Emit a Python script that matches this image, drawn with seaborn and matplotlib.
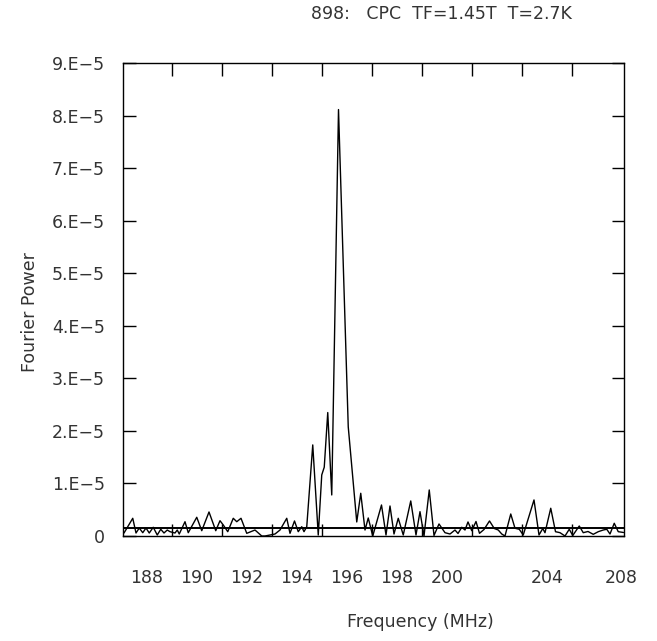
import numpy as np
import pandas as pd
import matplotlib
matplotlib.use("Agg")
import matplotlib.pyplot as plt
import seaborn as sns

# ==========================================
# DATA
# ==========================================
FREQ_MHZ = [
    187.08, 187.43, 187.56, 187.69, 187.83, 187.96, 188.09, 188.25, 188.41, 188.55,
    188.68, 188.81, 188.92, 189.12, 189.21, 189.29, 189.52, 189.65, 189.99, 190.19,
    190.48, 190.75, 190.92, 191.05, 191.23, 191.45, 191.59, 191.76, 191.99, 192.32,
    192.59, 192.72, 192.92, 193.12, 193.32, 193.59, 193.72, 193.90, 194.05, 194.19,
    194.28, 194.39, 194.63, 194.85, 194.99, 195.09, 195.23, 195.39, 195.66, 196.05,
    196.39, 196.55, 196.72, 196.85, 197.03, 197.38, 197.56, 197.72, 197.88, 198.05,
    198.25, 198.55, 198.76, 198.92, 199.08, 199.29, 199.48, 199.68, 199.92, 200.12,
    200.32, 200.44, 200.59, 200.72, 200.84, 200.99, 201.16, 201.30, 201.48, 201.70,
    201.89, 202.05, 202.19, 202.32, 202.55, 202.72, 202.89, 203.05, 203.48, 203.68,
    203.83, 203.92, 204.15, 204.34, 204.52, 204.72, 204.89, 205.03, 205.29, 205.45,
    205.64, 205.85, 206.05, 206.25, 206.39, 206.52, 206.69, 206.85, 207.06,
]
# Fourier power in units of 1e-5
POWER_E5 = [
    0.057, 0.337, 0.057, 0.152, 0.063, 0.152, 0.057, 0.166, 0.019, 0.128,
    0.057, 0.114, 0.082, 0.057, 0.114, 0.038, 0.272, 0.063, 0.356, 0.101,
    0.457, 0.101, 0.291, 0.210, 0.082, 0.337, 0.272, 0.337, 0.051, 0.114,
    0.000, 0.000, 0.019, 0.038, 0.114, 0.337, 0.051, 0.286, 0.082, 0.177,
    0.082, 0.177, 1.733, 0.019, 1.162, 1.309, 2.349, 0.781, 8.114, 2.076,
    0.267, 0.813, 0.114, 0.343, 0.000, 0.590, 0.019, 0.571, 0.038, 0.337,
    0.019, 0.667, 0.019, 0.463, 0.000, 0.876, 0.010, 0.229, 0.063, 0.038,
    0.114, 0.048, 0.166, 0.114, 0.267, 0.101, 0.276, 0.051, 0.124, 0.286,
    0.143, 0.114, 0.038, 0.000, 0.419, 0.147, 0.128, 0.019, 0.686, 0.019,
    0.143, 0.063, 0.528, 0.082, 0.063, 0.000, 0.128, 0.010, 0.190, 0.063,
    0.086, 0.032, 0.082, 0.114, 0.128, 0.038, 0.242, 0.082, 0.067,
]
BASELINE_E5 = 0.158

X_TICK_MARKS = [189, 191, 193, 195, 197, 199, 201, 203, 205]
X_LABEL_POS = [188, 190, 192, 194, 196, 198, 200, 204, 206.95]
X_LABELS = ["188", "190", "192", "194", "196", "198", "200", "204", "208"]
Y_TICKS_E5 = [0, 1, 2, 3, 4, 5, 6, 7, 8, 9]
Y_LABELS = ["0"] + [f"{v}.E\u22125" for v in range(1, 10)]

TITLE = "898:   CPC  TF=1.45T  T=2.7K"
TEXT_COLOR = "#333333"
FONT_SIZE = 12.5

# ==========================================
# PLOT
# ==========================================
sns.set_style("ticks")
plt.rcParams["font.family"] = ["DejaVu Sans"]

df = pd.DataFrame({"freq": FREQ_MHZ, "power": np.array(POWER_E5) * 1e-5})

fig = plt.figure(figsize=(6.57, 6.41), dpi=100)
ax = fig.add_axes([123 / 657, 1 - 536 / 641, 501 / 657, 473 / 641])

sns.lineplot(data=df, x="freq", y="power", sort=False, color="black",
             linewidth=1.0, ax=ax)
ax.axhline(BASELINE_E5 * 1e-5, color="black", linewidth=1.4)

ax.set_xlim(187.04, 207.08)
ax.set_ylim(0, 9e-5)

# x: tick marks on odd values, labels on even values (as in the original)
ax.set_xticks(X_LABEL_POS)
ax.set_xticklabels(X_LABELS)
ax.set_xticks(X_TICK_MARKS, minor=True)
ax.tick_params(axis="x", which="major", length=0, pad=24,
               labelsize=FONT_SIZE, labelcolor=TEXT_COLOR)
ax.tick_params(axis="x", which="minor", direction="in", length=9,
               width=1.0, top=True, bottom=True, color="black")

ax.set_yticks([v * 1e-5 for v in Y_TICKS_E5])
ax.set_yticklabels(Y_LABELS)
ax.tick_params(axis="y", which="major", direction="in", length=9, width=1.0,
               left=True, right=True, pad=13, labelsize=FONT_SIZE,
               labelcolor=TEXT_COLOR, color="black")

for side in ["left", "right", "top", "bottom"]:
    ax.spines[side].set_visible(True)
    ax.spines[side].set_color("black")
    ax.spines[side].set_linewidth(1.0)

ax.set_xlabel("")
ax.set_ylabel("")

fig.text(441 / 657, 1 - 14 / 641, TITLE, ha="center", va="center",
         fontsize=FONT_SIZE, color=TEXT_COLOR)
fig.text(420 / 657, 1 - 622 / 641, "Frequency (MHz)", ha="center",
         va="center", fontsize=FONT_SIZE, color=TEXT_COLOR)
fig.text(30 / 657, 1 - 312 / 641, "Fourier Power", ha="center", va="center",
         rotation=90, fontsize=FONT_SIZE, color=TEXT_COLOR)

fig.savefig("out.png", dpi=100, facecolor="white")
plt.close(fig)
